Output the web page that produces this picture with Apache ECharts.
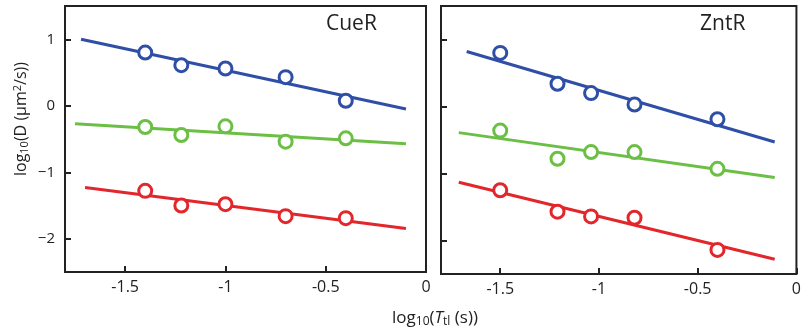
<!DOCTYPE html>
<html>
<head>
<meta charset="utf-8">
<script src="https://cdn.jsdelivr.net/npm/echarts@6/dist/echarts.min.js"></script>
<style>
  html, body { margin: 0; padding: 0; background: #fff; }
  #chart { width: 804px; height: 333px; }
</style>
</head>
<body>
<div id="chart"></div>
<script>
// CueR panel
const cueX = [-1.4, -1.22, -1.0, -0.7, -0.4];
const cueBlue = [0.80, 0.61, 0.56, 0.43, 0.075];
const cueGreen = [-0.32, -0.44, -0.31, -0.54, -0.49];
const cueRed = [-1.28, -1.50, -1.48, -1.66, -1.69];
const cueFitBlue = [[-1.72, 1.0], [-0.1, -0.05]];
const cueFitGreen = [[-1.75, -0.27], [-0.1, -0.57]];
const cueFitRed = [[-1.70, -1.23], [-0.1, -1.845]];

// ZntR panel
const zntX = [-1.5, -1.21, -1.04, -0.82, -0.40];
const zntBlue = [0.80, 0.34, 0.20, 0.03, -0.19];
const zntGreen = [-0.36, -0.78, -0.68, -0.68, -0.93];
const zntRed = [-1.25, -1.57, -1.64, -1.66, -2.14];
const zntFitBlue = [[-1.67, 0.82], [-0.11, -0.53]];
const zntFitGreen = [[-1.71, -0.39], [-0.11, -1.06]];
const zntFitRed = [[-1.71, -1.13], [-0.11, -2.28]];

const xTicks = [-1.5, -1, -0.5, 0];
const yTicks = [-2, -1, 0, 1];

const BLUE = '#2f4ea6';
const GREEN = '#6cbf45';
const RED = '#e3262b';
const font = '"Open Sans", "DejaVu Sans", sans-serif';

const chart = echarts.init(document.getElementById('chart'));

const makeX = (gi) => ({
  type: 'value', gridIndex: gi, min: -1.8, max: 0, position: 'bottom',
  axisLine: { show: false, onZero: false },
  splitLine: { show: false },
  axisTick: { show: true, inside: true, length: 6, customValues: xTicks,
    lineStyle: { color: '#222', width: 2 } },
  axisLabel: { show: true, customValues: xTicks, margin: 7, fontSize: 16, color: '#222',
    fontFamily: '"Liberation Sans Narrow", "Open Sans", sans-serif',
    formatter: (v) => String(v) }
});

const makeY = (gi, labels) => ({
  type: 'value', gridIndex: gi, min: -2.5, max: 1.5, position: 'left',
  axisLine: { show: false, onZero: false },
  splitLine: { show: false },
  axisTick: { show: true, inside: true, length: 6, customValues: yTicks,
    lineStyle: { color: '#222', width: 2 } },
  axisLabel: { show: labels, customValues: yTicks, margin: 10, fontSize: 15, color: '#222',
    fontFamily: font,
    formatter: (v) => (v < 0 ? '\u2212' + Math.abs(v) : String(v)) }
});

const pts = (xs, ys) => xs.map((x, i) => [x, ys[i]]);

const scatter = (gi, data, color) => ({
  type: 'scatter', xAxisIndex: gi, yAxisIndex: gi, data: data,
  symbol: 'circle', symbolSize: 13, z: 5,
  itemStyle: { color: '#fff', borderColor: color, borderWidth: 3, opacity: 1 }
});

const fit = (gi, data, color) => ({
  type: 'line', xAxisIndex: gi, yAxisIndex: gi, data: data,
  symbol: 'none', z: 3,
  lineStyle: { color: color, width: 3 }
});

const option = {
  animation: false,
  grid: [
    { left: 65, top: 6, width: 361, height: 266, show: true, borderColor: '#222', borderWidth: 2 },
    { left: 441, top: 6, width: 360, height: 268, show: true, borderColor: '#222', borderWidth: 2 }
  ],
  xAxis: [makeX(0), makeX(1)],
  yAxis: [makeY(0, true), makeY(1, false)],
  series: [
    fit(0, cueFitBlue, BLUE), fit(0, cueFitGreen, GREEN), fit(0, cueFitRed, RED),
    scatter(0, pts(cueX, cueBlue), BLUE), scatter(0, pts(cueX, cueGreen), GREEN), scatter(0, pts(cueX, cueRed), RED),
    fit(1, zntFitBlue, BLUE), fit(1, zntFitGreen, GREEN), fit(1, zntFitRed, RED),
    scatter(1, pts(zntX, zntBlue), BLUE), scatter(1, pts(zntX, zntGreen), GREEN), scatter(1, pts(zntX, zntRed), RED)
  ],
  graphic: [
    { type: 'text', left: 326, top: 14,
      style: { text: 'CueR', fontSize: 21, fontFamily: font, fill: '#222' } },
    { type: 'text', left: 700, top: 14,
      style: { text: 'ZntR', fontSize: 21, fontFamily: font, fill: '#222' } },
    { type: 'text', x: 21, y: 119, rotation: Math.PI / 2,
      style: {
        text: 'log{sub|10}(D (μm{sup|2}/s))',
        fontSize: 16, fontFamily: font, fill: '#222',
        align: 'center', verticalAlign: 'middle',
        rich: {
          sub: { fontSize: 11, fontFamily: font, fill: '#222', padding: [7, 0, 0, 0] },
          sup: { fontSize: 11, fontFamily: font, fill: '#222', padding: [0, 0, 7, 0] }
        }
      } },
    { type: 'text', x: 435, y: 318,
      style: {
        text: 'log{sub|10}({it|T}{sub|tl} (s))',
        fontSize: 17, fontFamily: font, fill: '#222',
        align: 'center', verticalAlign: 'middle',
        rich: {
          sub: { fontSize: 12, fontFamily: font, fill: '#222', padding: [7, 0, 0, 0] },
          it: { fontSize: 17, fontStyle: 'italic', fontFamily: font, fill: '#222' }
        }
      } }
  ]
};

chart.setOption(option);
</script>
</body>
</html>
